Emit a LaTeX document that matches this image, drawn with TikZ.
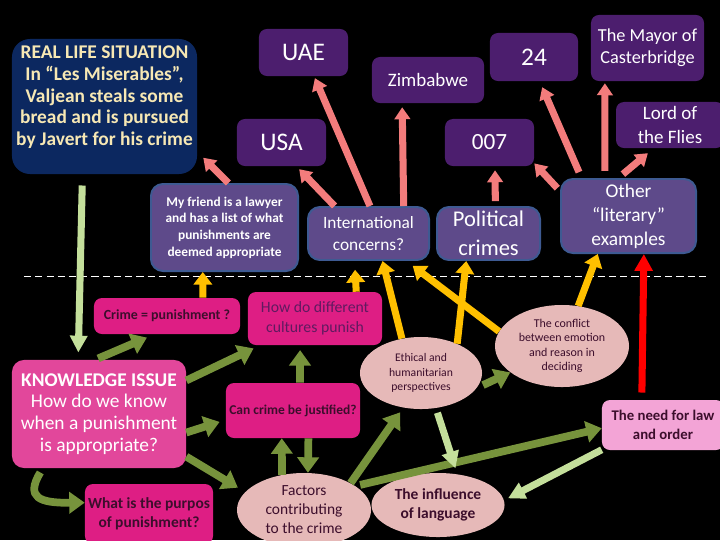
\documentclass[tikz,border=0pt]{standalone}
\usepackage{fontspec}
\setmainfont{Carlito}
\usetikzlibrary{arrows.meta,shapes.geometric}

\definecolor{navybox}{RGB}{12,40,96}
\definecolor{creamtext}{RGB}{247,232,180}
\definecolor{plumbox}{RGB}{76,30,110}
\definecolor{slatebox}{RGB}{94,74,138}
\definecolor{slateedge}{RGB}{62,90,146}
\definecolor{magentabox}{RGB}{222,30,132}
\definecolor{knowbox}{RGB}{226,71,155}
\definecolor{ovalfill}{RGB}{230,185,184}
\definecolor{lawbox}{RGB}{243,164,214}
\definecolor{darktext}{RGB}{60,14,44}
\definecolor{cultext}{RGB}{96,26,96}
\definecolor{coralarrow}{RGB}{243,124,124}
\definecolor{goldarrow}{RGB}{255,192,0}
\definecolor{olivearrow}{RGB}{119,147,60}
\definecolor{palearrow}{RGB}{196,223,155}

\begin{document}
\begin{tikzpicture}[x=0.025cm, y=-0.025cm,
    topbox/.style={fill=plumbox, rounded corners=0.2cm, text=white, inner sep=0, align=center},
    midbox/.style={fill=slatebox, draw=slateedge, line width=1.4pt, rounded corners=0.3cm, text=white, inner sep=0, align=center},
    magbox/.style={fill=magentabox, rounded corners=0.2cm, text=darktext, inner sep=0, align=center},
    pinkoval/.style={ellipse, fill=ovalfill, text=darktext, inner sep=0, align=center},
    pinkline/.style={coralarrow, line width=5pt, -{Triangle[width=11pt,length=8.5pt]}},
    yellowline/.style={goldarrow, line width=5pt, -{Triangle[width=13pt,length=9pt]}},
    oliveline/.style={olivearrow, line width=5.5pt, -{Triangle[width=15pt,length=11pt]}},
    paleline/.style={palearrow, line width=5pt, -{Triangle[width=12pt,length=12pt]}},
    redline/.style={red, line width=5pt, -{Triangle[width=12.5pt,length=12pt]}}]

    \useasboundingbox (0,0) rectangle (720,540);
    \fill[black] (0,0) rectangle (720,540);
    \draw[white, line width=0.7pt, dash pattern=on 5pt off 3pt] (24,276) -- (708,276);

    \node[fill=navybox, rounded corners=0.45cm, text=creamtext, inner sep=0, align=center,
        minimum width=4.625cm, minimum height=3.375cm, font=\bfseries\fontsize{13.8}{15.4}\selectfont]
        (real) at (104.5,106.5) {REAL LIFE SITUATION\\In “Les Miserables”,\\Valjean steals some\\bread and is pursued\\by Javert for his crime\\ \mbox{}};

    \node[topbox, minimum width=2.225cm, minimum height=1.175cm, font=\fontsize{18}{20}\selectfont] (uae) at (303.5,52.5) {UAE};
    \node[topbox, minimum width=2.225cm, minimum height=1.175cm, font=\fontsize{18}{20}\selectfont] (usa) at (281.5,142.5) {USA};
    \node[topbox, minimum width=2.8cm, minimum height=1.15cm, font=\fontsize{13.5}{15}\selectfont] (zim) at (428,80) {Zimbabwe};
    \node[topbox, minimum width=2.2cm, minimum height=1.2cm, font=\fontsize{18}{20}\selectfont] (tf) at (534,57) {24};
    \node[topbox, minimum width=2.825cm, minimum height=1.65cm, font=\fontsize{13}{15.6}\selectfont] (mayor) at (647.5,48) {The Mayor of\\Casterbridge};
    \node[topbox, minimum width=2.7cm, minimum height=1.15cm, font=\fontsize{13.5}{17}\selectfont] (lord) at (670,125) {Lord of\\the Flies};
    \node[topbox, minimum width=2.225cm, minimum height=1.175cm, font=\fontsize{16.5}{18}\selectfont] (bond) at (489.5,142.5) {007};

    \node[midbox, minimum width=3.675cm, minimum height=2.175cm, font=\bfseries\fontsize{9.5}{11.8}\selectfont] (friend) at (224.5,227.5) {My friend is a lawyer\\and has a list of what\\punishments are\\deemed appropriate};
    \node[midbox, minimum width=3.025cm, minimum height=1.325cm, font=\fontsize{12.3}{15.6}\selectfont] (intl) at (368.5,233.5) {International\\concerns?};
    \node[midbox, minimum width=2.575cm, minimum height=1.325cm, font=\fontsize{16}{20.3}\selectfont] (polit) at (488.5,233.5) {Political\\crimes};
    \node[midbox, minimum width=3.375cm, minimum height=1.85cm, font=\fontsize{13.8}{17}\selectfont] (other) at (628.5,216) {Other\\“literary”\\examples};

    \node[magbox, minimum width=3.65cm, minimum height=0.9cm, font=\bfseries\fontsize{9.9}{11}\selectfont] (crime) at (167,316) {Crime = punishment ?};
    \node[magbox, text=cultext, minimum width=3.35cm, minimum height=1.325cm, font=\fontsize{11.2}{14.2}\selectfont] (cultures) at (315,318.5) {How do different\\cultures punish};
    \node[fill=knowbox, rounded corners=0.3cm, text=white, inner sep=0, align=center,
        minimum width=4.35cm, minimum height=2.7cm, font=\fontsize{13.8}{15.4}\selectfont]
        (know) at (99,414) {\textbf{KNOWLEDGE ISSUE}\\How do we know\\when a punishment\\is appropriate?};
    \node[magbox, minimum width=3.35cm, minimum height=1.375cm, font=\bfseries\fontsize{9.6}{12}\selectfont] (justify) at (293,410.5) {Can crime be justified?};
    \node[magbox, minimum width=3.2cm, minimum height=1.5cm, font=\bfseries\fontsize{11}{13.5}\selectfont] (purpose) at (149,514) {What is the purpos\\of punishment?};

    \node[pinkoval, minimum width=3.35cm, minimum height=1.85cm, font=\fontsize{11}{13.5}\selectfont] (factors) at (304,510) {Factors\\contributing\\to the crime};
    \node[pinkoval, minimum width=3.325cm, minimum height=1.6cm, font=\bfseries\fontsize{11}{13.1}\selectfont] (lang) at (438,505) {The influence\\of language};
    \node[pinkoval, minimum width=3.05cm, minimum height=1.8cm, font=\fontsize{8.3}{10.4}\selectfont] (ethic) at (421,373) {Ethical and\\humanitarian\\perspectives};
    \node[pinkoval, minimum width=3.35cm, minimum height=2.05cm, font=\fontsize{8.5}{10.3}\selectfont] (conflict) at (562,346) {The conflict\\between emotion\\and reason in\\deciding};
    \node[fill=lawbox, rounded corners=0.2cm, text=darktext, inner sep=0, align=center,
        minimum width=3.05cm, minimum height=1.25cm, font=\bfseries\fontsize{10.5}{13.5}\selectfont]
        (law) at (663,425) {The need for law\\and order};

    \draw[pinkline, shorten >=0.21cm] (friend.85) -- (real.-26);
    \draw[pinkline, shorten >=0.1cm] (intl.141) -- (usa.-58);
    \draw[pinkline, shorten >=0.05cm] (intl.87) -- (uae.-66);
    \draw[pinkline, shorten >=0.1cm] (intl.38) -- (zim.-138);
    \draw[pinkline, shorten <=0.12cm, shorten >=0.1cm] (polit.76) -- (bond.-77);
    \draw[pinkline, shorten <=0.1cm] (other.160) -- (bond.-25);
    \draw[pinkline, shorten <=0.16cm, shorten >=0.16cm] (other.141) -- (tf.-77.5);
    \draw[pinkline, shorten <=0.18cm, shorten >=0.05cm] (other.122) -- (mayor.-142);
    \draw[pinkline, shorten <=0.15cm, shorten >=0.19cm] (other.105) -- (lord.-125);

    \draw[yellowline] (crime.27) -- (friend.-116);
    \draw[yellowline, shorten >=0.22cm] (cultures.33.5) -- (intl.-117);
    \draw[yellowline] (ethic.119) -- (intl.-63);
    \draw[yellowline] (ethic.39) -- (polit.-129);
    \draw[yellowline, shorten >=0.2cm] (conflict.167) -- (intl.-36);
    \draw[yellowline] (conflict.68) -- (other.-129.5);
    \draw[redline, shorten <=0.18cm] (law.130) -- (other.-68.6);

    \draw[oliveline, shorten <=0.08cm, shorten >=0.21cm] (know.94) -- (crime.-124);
    \draw[oliveline, shorten >=0.18cm] (know.21) -- (cultures.-154.6);
    \draw[oliveline, shorten >=0.16cm] (know.-12.3) -- (justify.-172);
    \draw[oliveline, shorten >=0.21cm] (know.-26.3) -- (factors.163);
    \draw[oliveline, shorten <=0.12cm] (know.-136) .. controls (25,498) and (40,503) .. (purpose.170);
    \draw[oliveline, shorten >=0.12cm] (justify.76) -- (cultures.-119.5);
    \draw[oliveline] (factors.122) -- (justify.-112);
    \draw[oliveline] (justify.-61.4) -- (factors.84);
    \draw[oliveline, shorten >=0.14cm] (factors.30) -- (ethic.-117);
    \draw[oliveline, shorten <=0.12cm] (factors.25) -- (law.-177);
    \draw[oliveline, shorten <=0.17cm] (ethic.-15) -- (conflict.-153);

    \draw[paleline, shorten <=0.28cm, shorten >=0.18cm] (real.-108) -- (know.111);
    \draw[paleline, shorten <=0.12cm, shorten >=0.15cm] (ethic.-67) -- (lang.58);
    \draw[paleline, shorten >=0.11cm] (law.-158) -- (lang.4.4);

\end{tikzpicture}
\end{document}
